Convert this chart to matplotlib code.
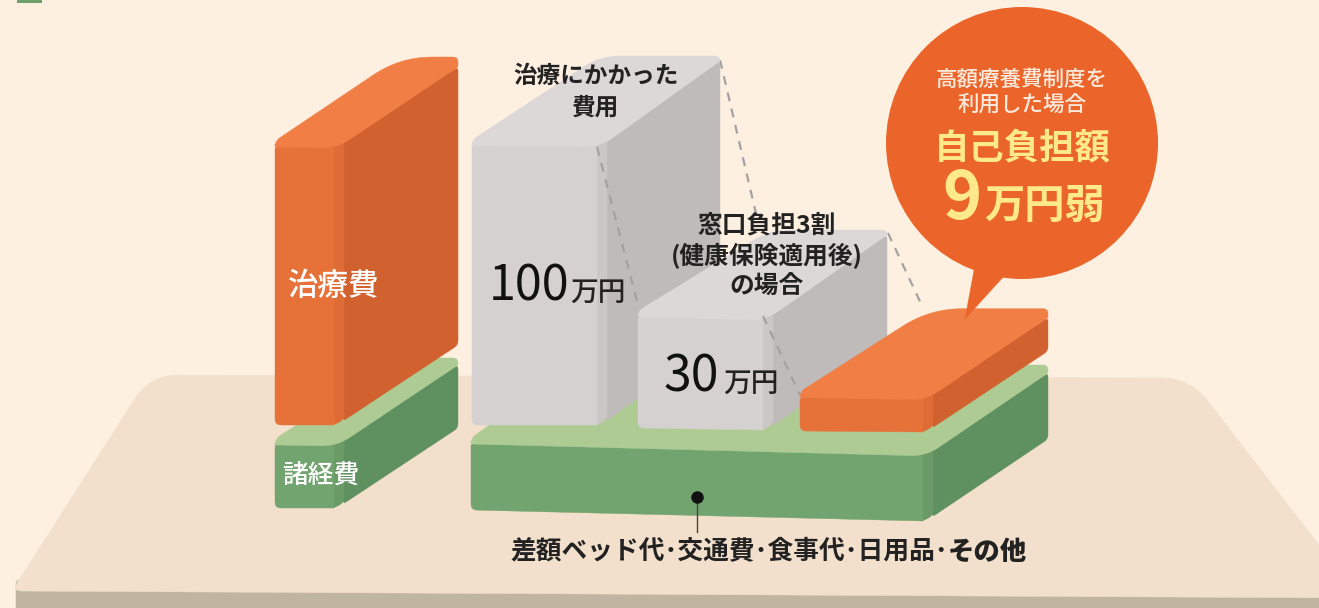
import numpy as np
import matplotlib
matplotlib.use("Agg")
import matplotlib.pyplot as plt
from matplotlib.path import Path
from matplotlib.patches import PathPatch, Circle, Rectangle

plt.rcParams['font.family'] = ['Noto Sans CJK JP', 'DejaVu Sans']

# data
amounts = [100, 30, 9]                 # 万円
amount_unit = "万円"
column_titles = ["治療にかかった\n費用", "窓口負担3割\n(健康保険適用後)\nの場合"]
legend_labels = ["治療費", "諸経費"]
other_costs = "差額ベッド代･交通費･食事代･日用品･"
other_costs_end = "その他"
bubble_small = "高額療養費制度を\n利用した場合"
bubble_big = "自己負担額"
bubble_unit = "万円弱"

# colours
BG = "#FDF0E1"
FLOOR = "#F3E0CC"
FLOOR_EDGE = "#BFB5A0"
ORANGE = dict(front="#E6723A", band="#DD6C36", side="#D1622F", top="#F07E45")
GREEN = dict(front="#72A46F", band="#6A9B66", side="#5F905F", top="#AECB93")
GREY = dict(front="#D5D1D0", band="#CBC7C6", side="#BFBBBB", top="#DDD8D8")
BUBBLE = "#EB652B"
YELLOW = "#FFE98A"
DARK = "#222222"


def bar_height(v):
    # the picture squeezes everything above 30
    return min(v, 30) * 3.7 + max(v - 30, 0) * 2.4


def rounded(pts, r):
    # closed path through pts, corners cut with a curve of size r
    pts = np.array(pts, float)
    n = len(pts)
    if np.isscalar(r):
        r = [r] * n
    verts, codes = [], []
    for i in range(n):
        p, a, b = pts[i], pts[i - 1], pts[(i + 1) % n]
        d1 = (a - p) / np.linalg.norm(a - p)
        d2 = (b - p) / np.linalg.norm(b - p)
        verts += [p + d1 * r[i], p, p + d2 * r[i]]
        codes += [Path.LINETO, Path.CURVE3, Path.CURVE3]
    codes[0] = Path.MOVETO
    verts.append(verts[0])
    codes.append(Path.CLOSEPOLY)
    return Path(verts, codes)


def poly(ax, pts, color, r=0, z=1):
    ax.add_patch(PathPatch(rounded(pts, r), fc=color, ec=color, lw=0.3, zorder=z))


def block(ax, x0, x1, yb, h, dx, dy, back, c, z, bw=10, s=3, k=8, rb=32):
    # front face, rounded vertical edge, side and top of one slab
    yt = yb - h
    xb = x1 + bw
    xr = xb + dx
    poly(ax, [(xb - 1, yt + s - 8), (xr, yt - dy), (xr, yb - dy), (xb - 1, yb + s - 4)], c["side"], 4, z)
    poly(ax, [(x1 - 1, yt + s - 6), (xb, yt + s - 8), (xb, yb + s - 5), (x1 - 1, yb + s)], c["band"], [0, 0, 6, 0], z)
    poly(ax, [(x0, yt), (x1, yt + s - 6), (x1, yb + s), (x0, yb)], c["front"], [2, 0, 0, 6], z)
    poly(ax, [(x0, yt), (x0, yt - 6), (back, yt - dy - k), (xr, yt - dy - k), (xr, yt - dy),
              (x1 + 3, yt + s + 1)], c["top"], [3, 6, rb, 5, 1, 15], z)


fig = plt.figure(figsize=(13.19, 6.08), dpi=100, facecolor=BG)
ax = fig.add_axes([0, 0, 1, 1])
ax.set_xlim(0, 1319)
ax.set_ylim(608, 0)
ax.axis("off")

# table top
ax.add_patch(Rectangle((17, 0), 25, 3, fc="#6DA06B", ec="none"))
poly(ax, [(16, 640), (16, 580), (1350, 580), (1350, 640)], FLOOR_EDGE, [0, 4, 0, 0], 0)
poly(ax, [(12, 591), (150, 375), (1190, 378), (1360, 598)], FLOOR, [10, 28, 28, 0], 0.5)

# left legend slabs
block(ax, 275, 334, 508, 63, 114, 80, 400, GREEN, 2, s=0, k=7)
block(ax, 275, 334, 425, 278, 114, 80, 400, ORANGE, 3, s=0, k=10)

# base slab
block(ax, 471, 923, 510, 66, 115, 71, 575, GREEN, 2, s=11, k=8)

h100, h30, h9 = [bar_height(a) for a in amounts]
block(ax, 472, 597, 425, h100, 113, 85, 600, GREY, 3, s=0, k=5, rb=20)
block(ax, 638, 763, 428, h30, 114, 82, 770, GREY, 4, s=2, k=5, rb=20)
block(ax, 800, 923, 431, h9, 115, 80, 930, ORANGE, 5, s=1, k=9)

# dashed guides
for (xa, ya), (xc, yc), z in [((720, 60), (758, 222), 2.5), ((597, 147), (638, 305), 3.5),
                              ((888, 233), (923, 308), 2.5), ((763, 316), (800, 395), 4.5)]:
    ax.plot([xa, xc], [ya, yc], color="#A5A1A1", lw=1.6, dashes=(4, 3.5), zorder=z)

# bubble
ax.add_patch(Circle((1022, 143), 136, fc=BUBBLE, ec="none", zorder=6))
poly(ax, [(975, 265), (965, 319), (1005, 275)], BUBBLE, 0, 6)

# texts
ax.text(596, 92, column_titles[0], ha="center", va="center", fontsize=17, weight="bold",
        color=DARK, linespacing=1.4, zorder=7)
ax.text(767, 256, column_titles[1], ha="center", va="center", fontsize=17.8, weight="bold",
        color=DARK, linespacing=1.28, zorder=7)
ax.text(529, 287, str(amounts[0]), ha="center", va="center", fontsize=35, weight="regular", color="#111111", zorder=7)
ax.text(598, 292, amount_unit, ha="center", va="center", fontsize=20, weight="medium", color=DARK, zorder=7)
ax.text(691, 378, str(amounts[1]), ha="center", va="center", fontsize=36, weight="regular", color="#111111", zorder=7)
ax.text(751, 383, amount_unit, ha="center", va="center", fontsize=20, weight="medium", color=DARK, zorder=7)
ax.text(334, 287, legend_labels[0], ha="center", va="center", fontsize=22, weight="medium", color="white", zorder=7)
ax.text(321, 476, legend_labels[1], ha="center", va="center", fontsize=18.5, weight="medium", color="white", zorder=7)
ax.text(1022, 92, bubble_small, ha="center", va="center", fontsize=15.5, weight="medium", color="#FCEBDD",
        linespacing=1.2, zorder=7)
ax.text(1022, 149, bubble_big, ha="center", va="center", fontsize=25.5, weight="bold", color=YELLOW, zorder=7)
ax.text(962, 199, str(amounts[2]), ha="center", va="center", fontsize=48, weight="bold", color=YELLOW, zorder=7)
ax.text(1045, 206, bubble_unit, ha="center", va="center", fontsize=29, weight="bold", color=YELLOW, zorder=7)

# leader and caption
ax.plot([697, 697], [497, 532], color="#444444", lw=1, zorder=7)
ax.plot([697], [497], "o", color="#111111", ms=8, zorder=7)
ax.text(948, 552, other_costs, ha="right", va="center", fontsize=18.5, weight="bold", color=DARK, zorder=7)
ax.text(948, 552, other_costs_end, ha="left", va="center", fontsize=19, weight="black", color=DARK, zorder=7)

fig.savefig("out.png", dpi=100, facecolor=BG)
